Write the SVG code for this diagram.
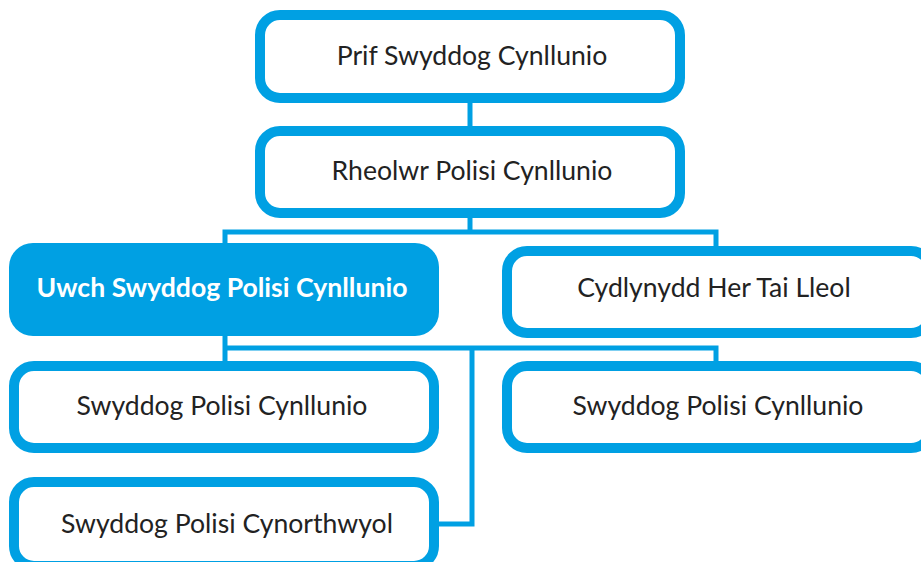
<svg xmlns="http://www.w3.org/2000/svg" width="921" height="562" viewBox="0 0 921 562">
<style>
.box{fill:#fff;stroke:#00A0E3;stroke-width:10}
.fbox{fill:#00A0E3;stroke:none}
.t{font-family:Lato,"Open Sans","Liberation Sans",sans-serif;font-size:26.6px;fill:#222;text-anchor:middle}
.tb{font-family:Lato,"Open Sans","Liberation Sans",sans-serif;font-size:26.6px;font-weight:bold;fill:#fff;text-anchor:middle}
.c{fill:none;stroke:#00A0E3;stroke-width:5}
</style>
<rect width="921" height="562" fill="#fff"/>
<g id="connectors">
<line class="c" x1="470" y1="98" x2="470" y2="131"/>
<line class="c" x1="470" y1="213" x2="470" y2="232"/>
<polyline class="c" points="225,246 225,232 716,232 716,251"/>
<line class="c" x1="225" y1="336" x2="225" y2="366"/>
<polyline class="c" points="225,348 716,348 716,366"/>
<polyline class="c" points="472,348 472,524 434,524"/>
</g>
<g id="n1"><rect class="box" x="260" y="15" width="420" height="83" rx="20"/><text class="t" x="472" y="65">Prif Swyddog Cynllunio</text></g>
<g id="n2"><rect class="box" x="260" y="131" width="420" height="82" rx="20"/><text class="t" x="472" y="180">Rheolwr Polisi Cynllunio</text></g>
<g id="n3"><rect class="fbox" x="9" y="243" width="430" height="93" rx="24"/><text class="tb" x="222" y="297">Uwch Swyddog Polisi Cynllunio</text></g>
<g id="n4"><rect class="box" x="507" y="251" width="424" height="82" rx="20"/><text class="t" x="714" y="297">Cydlynydd Her Tai Lleol</text></g>
<g id="n5"><rect class="box" x="14" y="366" width="420" height="82" rx="20"/><text class="t" x="222" y="415">Swyddog Polisi Cynllunio</text></g>
<g id="n6"><rect class="box" x="507" y="366" width="424" height="82" rx="20"/><text class="t" x="718" y="415">Swyddog Polisi Cynllunio</text></g>
<g id="n7"><rect class="box" x="14" y="482" width="420" height="84" rx="20"/><text class="t" x="227" y="533">Swyddog Polisi Cynorthwyol</text></g>
</svg>
